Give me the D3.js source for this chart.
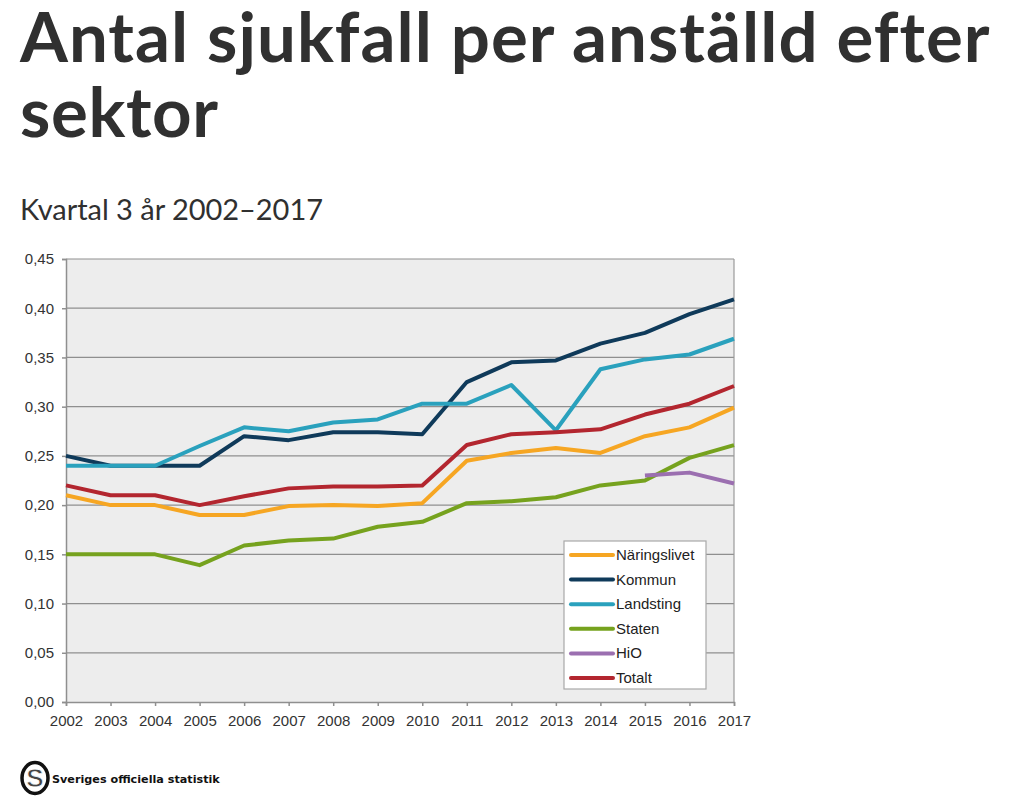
<!DOCTYPE html>
<html><head><meta charset="utf-8">
<script src="https://cdn.jsdelivr.net/npm/d3@7"></script>
<style>body{margin:0;background:#fff}svg{display:block}</style>
</head><body>
<svg id="c" width="1017" height="804"></svg>
<script>
const years = [2002,2003,2004,2005,2006,2007,2008,2009,2010,2011,2012,2013,2014,2015,2016,2017];
const naringslivet = [0.210,0.200,0.200,0.190,0.190,0.199,0.200,0.199,0.202,0.245,0.253,0.258,0.253,0.270,0.279,0.299];
const kommun       = [0.250,0.240,0.240,0.240,0.270,0.266,0.274,0.274,0.272,0.325,0.345,0.347,0.364,0.375,0.394,0.409];
const landsting    = [0.240,0.240,0.240,0.260,0.279,0.275,0.284,0.287,0.303,0.303,0.322,0.276,0.338,0.348,0.353,0.369];
const staten       = [0.150,0.150,0.150,0.139,0.159,0.164,0.166,0.178,0.183,0.202,0.204,0.208,0.220,0.225,0.248,0.261];
const hio          = [null,null,null,null,null,null,null,null,null,null,null,null,null,0.230,0.233,0.222];
const totalt       = [0.220,0.210,0.210,0.200,0.209,0.217,0.219,0.219,0.220,0.261,0.272,0.274,0.277,0.292,0.303,0.321];
const seriesNames  = ["Näringslivet","Kommun","Landsting","Staten","HiO","Totalt"];
const seriesColors = ["#f6a623","#0f3a5a","#2aa1bd","#76a21e","#9b6fb0","#b3262f"];
const yTicks = [0,0.05,0.10,0.15,0.20,0.25,0.30,0.35,0.40,0.45];

const seriesValues = [naringslivet,kommun,landsting,staten,hio,totalt];
const svg = d3.select("#c");

// Titles
const titleFont = "'Lato','Open Sans',sans-serif";
function fit(sel, target){
  const fs = parseFloat(sel.attr("font-size"));
  const w = sel.node().getComputedTextLength();
  sel.attr("font-size", fs*target/w);
}
function spread(sel, target){
  const w = sel.node().getComputedTextLength();
  const n = sel.text().length;
  sel.attr("letter-spacing", (target-w)/(n-1));
}
const t1 = svg.append("text").attr("x",20).attr("y",62).attr("font-family",titleFont)
  .attr("font-weight",700).attr("font-size",69).attr("fill","#303030").text("Antal sjukfall per anställd efter");
spread(t1, 968);
const t2 = svg.append("text").attr("x",20).attr("y",137).attr("font-family",titleFont)
  .attr("font-weight",700).attr("font-size",69).attr("fill","#303030").text("sektor");
spread(t2, 198);
const st = svg.append("text").attr("x",20).attr("y",220).attr("font-family",titleFont)
  .attr("font-weight",400).attr("font-size",29).attr("fill","#303030").text("Kvartal 3 år 2002–2017");
spread(st, 303);

// Chart
const L=66, R=734, T=259, B=702;
const x = d3.scaleLinear().domain([2002,2017]).range([L,R]);
const y = d3.scaleLinear().domain([0,0.45]).range([B,T]);
const g = svg.append("g");

g.append("rect").attr("x",L).attr("y",T).attr("width",R-L).attr("height",B-T).attr("fill","#ededed");

g.selectAll(".grid").data(yTicks.filter(d=>d>0)).enter().append("line")
  .attr("x1",L).attr("x2",R).attr("y1",d=>y(d)).attr("y2",d=>y(d))
  .attr("stroke","#8f8f8f").attr("stroke-width",1.2);
g.append("line").attr("x1",R).attr("x2",R).attr("y1",T).attr("y2",B).attr("stroke","#9a9a9a").attr("stroke-width",1.2);

const axFont = "'Liberation Sans',Arial,sans-serif";
const yAxis = d3.axisLeft(y).tickValues(yTicks).tickSize(4).tickPadding(8)
  .tickFormat(d=>d3.format(".2f")(d).replace(".",","));
const ya = g.append("g").attr("transform",`translate(${L},0)`).call(yAxis);
const xAxis = d3.axisBottom(x).tickValues(years).tickSize(4).tickPadding(9).tickFormat(d3.format("d"));
const xa = g.append("g").attr("transform",`translate(0,${B})`).call(xAxis);
[ya,xa].forEach(a=>{
  a.select(".domain").attr("stroke","#8f8f8f").attr("stroke-width",1.5);
  a.selectAll(".tick line").attr("stroke","#8f8f8f").attr("stroke-width",1.5);
  a.selectAll("text").attr("font-family",axFont).attr("font-size",15).attr("fill","#333");
});

const line = d3.line().defined(d=>d[1]!=null).x(d=>x(d[0])).y(d=>y(d[1]));
seriesValues.forEach((vals,i)=>{
  g.append("path").datum(years.map((yr,j)=>[yr,vals[j]]))
    .attr("d",line).attr("fill","none").attr("stroke",seriesColors[i])
    .attr("stroke-width",4).attr("stroke-linejoin","round").attr("stroke-linecap","butt");
});

// Legend
const lg = g.append("g").attr("transform","translate(564,541)");
lg.append("rect").attr("width",142).attr("height",148).attr("fill","#fff").attr("stroke","#a8a8a8").attr("stroke-width",1.2);
seriesNames.forEach((n,i)=>{
  const yy = 14 + i*24.6;
  lg.append("line").attr("x1",7).attr("x2",49).attr("y1",yy).attr("y2",yy)
    .attr("stroke",seriesColors[i]).attr("stroke-width",4).attr("stroke-linecap","round");
  lg.append("text").attr("x",52).attr("y",yy+5).attr("font-family",axFont).attr("font-size",15)
    .attr("fill","#222").text(n);
});

// Logo
const logo = svg.append("g").attr("transform","translate(35,778)");
logo.append("ellipse").attr("rx",13).attr("ry",15.5).attr("fill","none").attr("stroke","#111").attr("stroke-width",3.5);
logo.append("text").attr("x",0).attr("y",9).attr("text-anchor","middle").attr("font-family",axFont)
  .attr("font-weight",700).attr("font-size",26).attr("fill","#444").attr("stroke","#fff").attr("stroke-width",0.8).text("S");
const lt = svg.append("text").attr("x",52).attr("y",783).attr("font-family","'DejaVu Sans',sans-serif")
  .attr("font-weight",700).attr("font-size",12).attr("fill","#111").text("Sveriges officiella statistik");
fit(lt,168);
</script>
</body></html>
